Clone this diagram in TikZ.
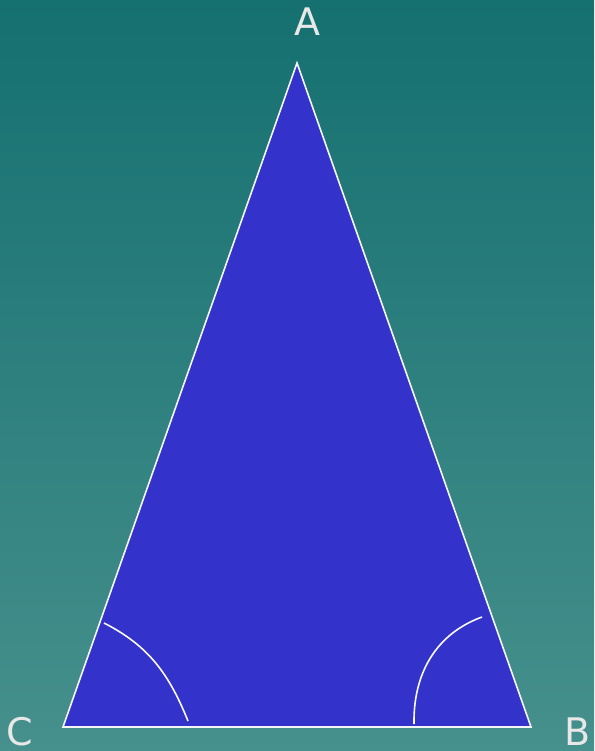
\documentclass[tikz,border=0pt]{standalone}
\usepackage{fontspec}
\setmainfont{DejaVu Sans}
\definecolor{bgtop}{HTML}{157070}
\definecolor{bgbot}{HTML}{46908D}
\definecolor{tri}{HTML}{3333CC}
\definecolor{txt}{HTML}{E8E8E8}
\begin{document}
\begin{tikzpicture}[x=1pt,y=-1pt,
  lbl/.style={text=txt,font=\fontsize{38}{40}\selectfont,inner sep=0pt},
  edge/.style={draw=white!92!gray,line width=1.6pt},
  anglemark/.style={draw=white!95!gray,line width=1.6pt}]
\shade[top color=bgtop,bottom color=bgbot] (0,0) rectangle (594,751);
\useasboundingbox (0,0) rectangle (594,751);
\coordinate (A) at (297,63);
\coordinate (B) at (531,727);
\coordinate (C) at (63,727);
\fill[tri] (A) -- (B) -- (C) -- cycle;
\draw[edge,line join=miter] (A) -- (B) -- (C) -- cycle;
\draw[anglemark] (104,623) to[out=-27,in=112] (188,721);
\draw[anglemark] (482,617) to[out=200,in=91] (414,724);
\node[lbl] (la) at (307,22) {A};
\node[lbl] (lb) at (578,732) {B};
\node[lbl] (lc) at (20,732) {C};
\end{tikzpicture}
\end{document}
